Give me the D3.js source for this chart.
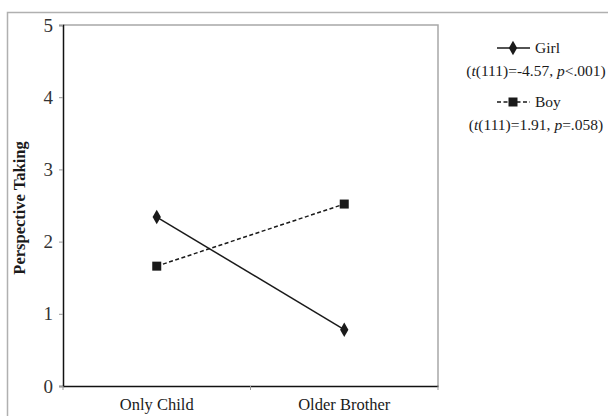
<!DOCTYPE html>
<html><head><meta charset="utf-8">
<script src="https://cdn.jsdelivr.net/npm/d3@7"></script>
<style>body{margin:0;background:#fff}svg{display:block}text{font-family:"Liberation Serif","Times New Roman",serif;fill:#1a1a1a}</style>
</head><body><svg id="c" width="608" height="416"></svg>
<script>
const categories = ["Only Child", "Older Brother"];
const girl = [2.34, 0.78];
const boy = [1.66, 2.52];
const yTicks = [0, 1, 2, 3, 4, 5];
const yTitle = "Perspective Taking";

const svg = d3.select("#c");
const m = {l: 63, t: 25, r: 438, b: 386};
svg.append("rect").attr("x", 7.5).attr("y", 12.5).attr("width", 620).attr("height", 420)
  .attr("fill", "none").attr("stroke", "#b0b0b0").attr("stroke-width", 1.5);

const x = d3.scaleBand().domain(categories).range([m.l, m.r]);
const y = d3.scaleLinear().domain([0, 5]).range([m.b, m.t]);

svg.append("path").attr("d", `M${m.l},${m.t}H${m.r}V${m.b}`).attr("fill", "none")
  .attr("stroke", "#a8a8a8").attr("stroke-width", 1.5);

const ya = svg.append("g").attr("transform", `translate(${m.l},0)`)
  .call(d3.axisLeft(y).tickValues(yTicks).tickSize(4).tickPadding(6).tickFormat(d3.format("d")));
ya.attr("font-size", null).attr("font-family", null);
ya.select(".domain").attr("stroke", "#111").attr("stroke-width", 1.5);
ya.selectAll(".tick line").attr("stroke", "#999");
ya.selectAll("text").style("font-size", "19px").style("fill", "#333");

const xa = svg.append("g").attr("transform", `translate(0,${m.b})`)
  .call(d3.axisBottom(x).tickSize(0).tickPadding(12));
xa.attr("font-size", null).attr("font-family", null);
xa.select(".domain").attr("stroke", "#111").attr("stroke-width", 1.5);
xa.selectAll("text").style("font-size", "16.5px").style("fill", "#1a1a1a");
const bounds = [m.l, m.l + x.step(), m.r];
svg.selectAll(".bt").data(bounds).enter().append("line")
  .attr("x1", d => d).attr("x2", d => d).attr("y1", m.b).attr("y2", m.b + 4)
  .attr("stroke", "#999");

svg.append("text").attr("transform", `translate(25,208) rotate(-90)`)
  .attr("text-anchor", "middle").style("font-size", "16.5px").attr("font-weight", "bold").text(yTitle);

const cx = d => x(d) + x.bandwidth() / 2;
const line = d3.line().x((d, i) => cx(categories[i])).y(d => y(d));
svg.append("path").datum(girl).attr("d", line).attr("fill", "none").attr("stroke", "#1a1a1a").attr("stroke-width", 1.5);
svg.append("path").datum(boy).attr("d", line).attr("fill", "none").attr("stroke", "#1a1a1a").attr("stroke-width", 1.5).attr("stroke-dasharray", "4,2.5");

const diamond = d3.symbol().type(d3.symbolDiamond).size(60);
svg.selectAll(".gd").data(girl).enter().append("path")
  .attr("transform", (d, i) => `translate(${cx(categories[i])},${y(d)})`).attr("d", diamond).attr("fill", "#1a1a1a");
svg.selectAll(".bs").data(boy).enter().append("rect")
  .attr("x", (d, i) => cx(categories[i]) - 4.5).attr("y", d => y(d) - 4.5).attr("width", 9).attr("height", 9).attr("fill", "#1a1a1a");

const lg = svg.append("g").style("font-size", "15.5px");
lg.append("line").attr("x1", 497).attr("x2", 530).attr("y1", 48).attr("y2", 48).attr("stroke", "#1a1a1a").attr("stroke-width", 1.5);
lg.append("path").attr("transform", "translate(513,48)").attr("d", diamond).attr("fill", "#1a1a1a");
lg.append("text").attr("x", 535).attr("y", 53).text("Girl");
const t1 = lg.append("text").attr("x", 536).attr("y", 76).attr("text-anchor", "middle");
t1.append("tspan").text("(");
t1.append("tspan").attr("font-style", "italic").text("t");
t1.append("tspan").text("(111)=-4.57, ");
t1.append("tspan").attr("font-style", "italic").text("p");
t1.append("tspan").text("<.001)");

lg.append("line").attr("x1", 497).attr("x2", 530).attr("y1", 102).attr("y2", 102).attr("stroke", "#1a1a1a").attr("stroke-width", 1.5).attr("stroke-dasharray", "4,2.5");
lg.append("rect").attr("x", 508.5).attr("y", 97.5).attr("width", 9).attr("height", 9).attr("fill", "#1a1a1a");
lg.append("text").attr("x", 535).attr("y", 107).text("Boy");
const t2 = lg.append("text").attr("x", 536).attr("y", 130).attr("text-anchor", "middle");
t2.append("tspan").text("(");
t2.append("tspan").attr("font-style", "italic").text("t");
t2.append("tspan").text("(111)=1.91, ");
t2.append("tspan").attr("font-style", "italic").text("p");
t2.append("tspan").text("=.058)");
</script></body></html>
